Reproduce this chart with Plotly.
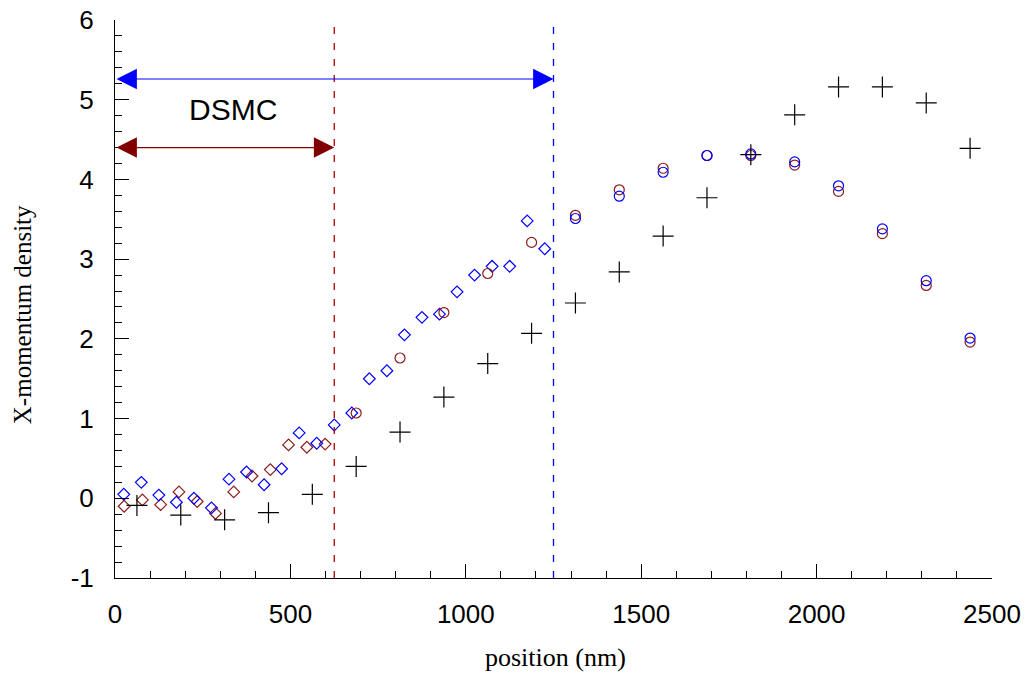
import plotly.graph_objects as go

# ---- data ----
cross_x = [62.5, 187.5, 312.5, 437.5, 562.5, 687.5, 812.5, 937.5, 1062.5, 1187.5,
           1312.5, 1437.5, 1562.5, 1687.5, 1812.5, 1937.5, 2062.5, 2187.5, 2312.5, 2437.5]
cross_y = [-0.09, -0.21, -0.27, -0.18, 0.05, 0.40, 0.83, 1.27, 1.69, 2.07,
           2.45, 2.84, 3.29, 3.77, 4.31, 4.81, 5.16, 5.16, 4.96, 4.39]

red_circ_x = [687.5, 812.5, 937.5, 1062.5, 1187.5, 1312.5, 1437.5, 1562.5, 1687.5, 1812.5,
              1937.5, 2062.5, 2187.5, 2312.5, 2437.5]
red_circ_y = [1.07, 1.76, 2.33, 2.82, 3.21, 3.55, 3.87, 4.14, 4.30, 4.30,
              4.18, 3.85, 3.32, 2.67, 1.96]

blue_circ_x = [1312.5, 1437.5, 1562.5, 1687.5, 1812.5, 1937.5, 2062.5, 2187.5, 2312.5, 2437.5]
blue_circ_y = [3.51, 3.79, 4.09, 4.30, 4.32, 4.22, 3.92, 3.38, 2.73, 2.01]

blue_dia_x = [25, 75, 125, 175, 225, 275, 325, 375, 425, 475, 525, 575, 625,
              675, 725, 775, 825, 875, 925, 975, 1025, 1075, 1125, 1175, 1225]
blue_dia_y = [0.05, 0.20, 0.04, -0.05, 0.00, -0.12, 0.24, 0.33, 0.17, 0.37, 0.82, 0.69, 0.92,
              1.07, 1.50, 1.60, 2.05, 2.27, 2.31, 2.59, 2.80, 2.91, 2.91, 3.48, 3.13]

red_dia_x = [26.0, 78.1, 130.2, 182.3, 234.4, 286.5, 338.5, 390.6, 442.7, 494.8, 546.9, 599.0]
red_dia_y = [-0.10, -0.02, -0.08, 0.08, -0.04, -0.19, 0.08, 0.28, 0.36, 0.67, 0.64, 0.68]

dsmc_end = 625
outer_end = 1250
red_arrow_level = 4.40
blue_arrow_level = 5.26
label_text = "DSMC"
label_pos = (337, 4.88)

x_title = "position (nm)"
y_title = "X-momentum density"
x_ticks = [0, 500, 1000, 1500, 2000, 2500]
y_ticks = [-1, 0, 1, 2, 3, 4, 5, 6]

RED = "#8B1A1A"
DARKRED = "#800000"
BLUE = "#0000FF"

fig = go.Figure()

fig.add_trace(go.Scatter(x=red_dia_x, y=red_dia_y, mode="markers",
                         marker=dict(symbol="diamond-open", size=9, color=RED, line=dict(width=1.2, color=RED))))
fig.add_trace(go.Scatter(x=blue_dia_x, y=blue_dia_y, mode="markers",
                         marker=dict(symbol="diamond-open", size=9, color=BLUE, line=dict(width=1.2, color=BLUE))))
fig.add_trace(go.Scatter(x=red_circ_x, y=red_circ_y, mode="markers",
                         marker=dict(symbol="circle-open", size=10, color=RED, line=dict(width=1.2, color=RED))))
fig.add_trace(go.Scatter(x=blue_circ_x, y=blue_circ_y, mode="markers",
                         marker=dict(symbol="circle-open", size=10, color=BLUE, line=dict(width=1.2, color=BLUE))))
fig.add_trace(go.Scatter(x=cross_x, y=cross_y, mode="markers",
                         marker=dict(symbol="cross-thin", size=15, color="black", line=dict(width=1.2, color="black"))))

# vertical dashed boundaries
fig.add_shape(type="line", x0=dsmc_end, x1=dsmc_end, y0=0, y1=1, yref="paper", xref="x",
              line=dict(color="#B00000", width=1.3, dash="7px,9px"))
fig.add_shape(type="line", x0=outer_end, x1=outer_end, y0=0, y1=1, yref="paper", xref="x",
              line=dict(color="blue", width=1.3, dash="7px,9px"))

# double-headed arrows
for end, lvl, col in [(outer_end, blue_arrow_level, BLUE), (dsmc_end, red_arrow_level, DARKRED)]:
    fig.add_annotation(x=end, y=lvl, ax=0, ay=lvl, xref="x", yref="y", axref="x", ayref="y",
                       text="", showarrow=True, arrowhead=2, startarrowhead=2, arrowside="end+start",
                       arrowsize=3.4, startarrowsize=3.4, arrowwidth=1.2, arrowcolor=col)

fig.add_annotation(x=label_pos[0], y=label_pos[1], xref="x", yref="y", text=label_text, showarrow=False,
                   font=dict(family="Liberation Sans, Arial", size=30, color="black"))

# axis titles as annotations placed relative to the plot area
fig.add_annotation(x=0.502, y=0, xref="paper", yref="paper", yshift=-79, yanchor="middle",
                   text=x_title, showarrow=False,
                   font=dict(family="Liberation Serif, Times New Roman", size=26, color="black"))
fig.add_annotation(x=0, y=0.471, xref="paper", yref="paper", xshift=-93, xanchor="center", yanchor="middle",
                   text=y_title, showarrow=False, textangle=-90,
                   font=dict(family="Liberation Serif, Times New Roman", size=25, color="black"))

axis_common = dict(showgrid=False, zeroline=False, showline=True, linecolor="black", linewidth=1,
                   ticks="inside", ticklen=14, tickcolor="black", tickwidth=1, mirror=False,
                   automargin=False, ticklabeloverflow="allow",
                   tickfont=dict(family="Liberation Sans, Arial", size=26, color="black"))

fig.update_xaxes(range=[0, 2500], tickvals=x_ticks, ticktext=[str(v) for v in x_ticks],
                 minor=dict(dtick=100, ticks="inside", ticklen=7, tickcolor="black", tickwidth=1),
                 ticklabelstandoff=13, **axis_common)
fig.update_yaxes(range=[-1, 6], tickvals=y_ticks, ticktext=[str(v) for v in y_ticks],
                 minor=dict(dtick=0.2, ticks="inside", ticklen=7, tickcolor="black", tickwidth=1),
                 ticklabelstandoff=15, **axis_common)

fig.update_layout(width=1029, height=677, margin=dict(l=115, r=37, t=20, b=99),
                  plot_bgcolor="white", paper_bgcolor="white", showlegend=False)

# remove the default page margin so the figure fills the window exactly
fig.write_html("out.html", config={"displayModeBar": False},
               post_script="document.body.style.margin='0';")
